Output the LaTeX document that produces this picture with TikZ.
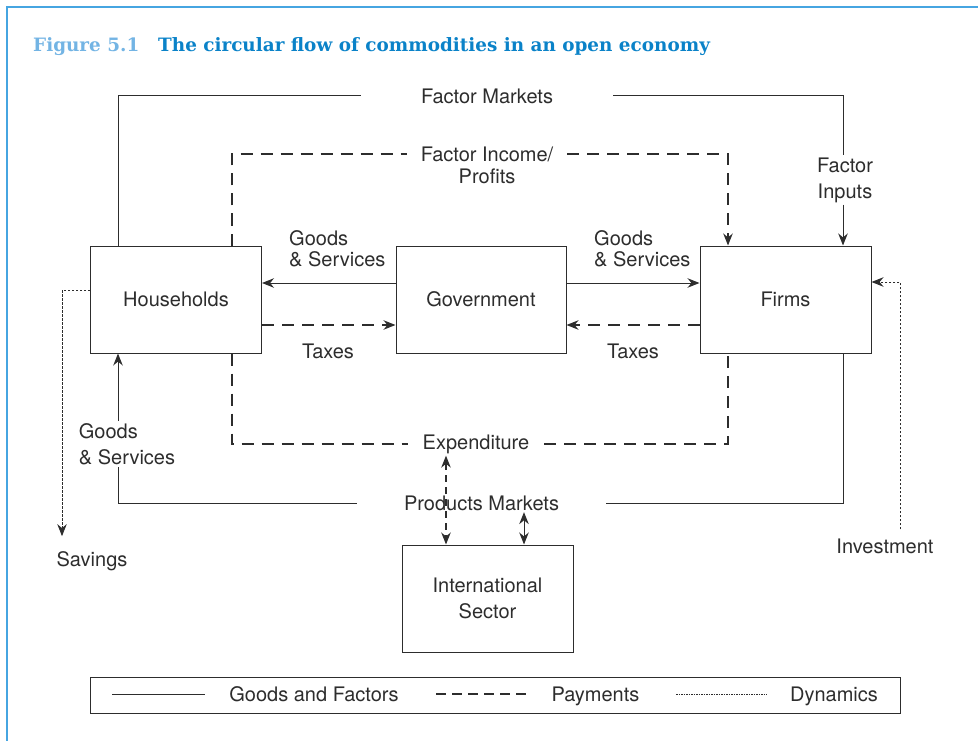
\documentclass[tikz,border=0pt]{standalone}
\usepackage{fontspec}
\setmainfont{TeX Gyre Heros}
\newfontfamily\titlefont{DejaVu Serif}
\usetikzlibrary{arrows.meta, positioning}
\definecolor{ink}{RGB}{45,45,45}
\definecolor{framebl}{RGB}{70,165,225}
\definecolor{figbl}{RGB}{115,180,228}
\definecolor{titlebl}{RGB}{10,130,200}
\tikzset{
  sector/.style={draw=ink, line width=1pt, minimum width=171pt, minimum height=107pt,
    font=\fontsize{20}{26}\selectfont, text=ink, align=center},
  lbl/.style={font=\fontsize{20}{26}\selectfont, text=ink, inner sep=2pt},
  goods/.style={draw=ink, line width=1pt},
  pay/.style={draw=ink, line width=1.1pt, dash pattern=on 12pt off 8pt},
  dyn/.style={draw=ink, line width=1pt, dash pattern=on 2.5pt off 1.5pt},
  tip/.style={-{Stealth[length=12pt,width=9.5pt]}},
  twotip/.style={{Stealth[length=12pt,width=9.5pt]}-{Stealth[length=12pt,width=9.5pt]}}
}

\begin{document}
\begin{tikzpicture}[x=1pt,y=-1pt]
  \useasboundingbox (0,0) rectangle (978,741);
  \draw[framebl, line width=2pt] (7,741) -- (7,7) -- (978,7);
  \node[anchor=base west, inner sep=0, text=figbl, font=\titlefont\bfseries\fontsize{18.4}{22}\selectfont] (fig) at (33,52) {Figure 5.1};
  \node[anchor=base west, inner sep=0, text=titlebl, font=\titlefont\bfseries\fontsize{18.4}{22}\selectfont] (ttl) at (158,52) {The circular flow of commodities in an open economy};

  \node[sector] (hh) at (176,299.5) {Households};
  \node[sector, minimum width=170pt] (gov) at (481,299.5) {Government};
  \node[sector] (firms) at (785.5,299.5) {Firms};
  \node[sector] (intl) at (487.5,598.5) {International\\Sector};

  \coordinate (xl) at (118,0);
  \coordinate (xr) at (843,0);
  \coordinate (xdl) at (232,0);
  \coordinate (xdr) at (728,0);
  \coordinate (xe) at (446,0);
  \coordinate (xs) at (524,0);
  \coordinate (xsv) at (62,0);
  \coordinate (xi) at (900,0);

  \node[lbl, inner xsep=60pt] (fmkt) at (487,96) {Factor Markets};
  \node[lbl, align=center] (finp) at (845,180) {Factor\\Inputs};
  \node[lbl, inner xsep=14pt] (finc) at (487,154) {Factor Income/};
  \node[lbl, below=3pt of finc] (prof) {Profits};
  \node[lbl, inner xsep=15pt] (expd) at (476,444) {Expenditure};
  \node[lbl, inner xsep=47pt] (pmkt) at (481.5,503) {Products Markets};
  \node[lbl, align=left, font=\fontsize{20}{21}\selectfont, anchor=west] (gsa) at (287,249) {Goods\\\& Services};
  \node[lbl, align=left, font=\fontsize{20}{21}\selectfont, anchor=west] (gsb) at (592,249) {Goods\\\& Services};
  \node[lbl, align=left] (gsc) at (127,444) {Goods\\\& Services};
  \node[lbl] (taxa) at (328,351) {Taxes};
  \node[lbl] (taxb) at (633,351) {Taxes};
  \node[lbl] (sav) at (92,561) {Savings};
  \node[lbl] (inv) at (885,546) {Investment};

  \draw[goods] (hh.north -| xl) |- (fmkt.west);
  \draw[goods] (fmkt.east) -| (finp.north -| xr);
  \draw[goods, tip] (finp.south -| xr) -- (firms.north -| xr);
  \draw[pay] (hh.north -| xdl) |- (finc.west);
  \draw[pay, tip] (finc.east) -| (firms.north -| xdr);

  \draw[goods, tip] ([yshift=16.5pt]gov.west) -- ([yshift=16.5pt]hh.east);
  \draw[goods, tip] ([yshift=16.5pt]gov.east) -- ([yshift=16.5pt]firms.west);
  \draw[pay, tip] ([yshift=-25.5pt]hh.east) -- ([yshift=-25.5pt]gov.west);
  \draw[pay, tip] ([yshift=-25.5pt]firms.west) -- ([yshift=-25.5pt]gov.east);

  \draw[pay] (hh.south -| xdl) |- (expd.west);
  \draw[pay] (expd.east) -| (firms.south -| xdr);
  \draw[goods] (firms.south -| xr) |- (pmkt.east);
  \draw[goods] (pmkt.west) -| (gsc.south -| xl);
  \draw[goods, tip] (gsc.north -| xl) -- (hh.south -| xl);

  \draw[pay, dash pattern=on 7pt off 5pt, twotip] (expd.south -| xe) -- (intl.north -| xe);
  \draw[goods, twotip] ([yshift=-2pt]pmkt.base -| xs) -- (intl.north -| xs);

  \draw[dyn, tip] ([yshift=9.5pt]hh.west) -| ([yshift=13pt]sav.north -| xsv);
  \draw[dyn, tip] ([yshift=7pt]inv.north -| xi) |- ([yshift=17.5pt]firms.east);

  \draw[goods] (90,677) rectangle (900,713);
  \node[lbl, anchor=base] (lga) at (314,701) {Goods and Factors};
  \node[lbl, anchor=base] (lgb) at (595.5,701) {Payments};
  \node[lbl, anchor=base] (lgc) at (834,701) {Dynamics};
  \draw[goods] (112,694) -- (205,694);
  \draw[pay, dash pattern=on 10pt off 6pt] (436,694) -- (528,694);
  \draw[dyn, line width=0.8pt, dash pattern=on 1.5pt off 1pt] (676,694) -- (767,694);
\end{tikzpicture}
\end{document}
